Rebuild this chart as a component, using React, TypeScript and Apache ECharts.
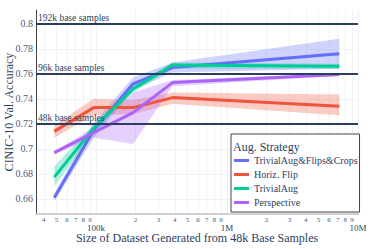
import React, { useEffect, useRef } from "react";
import * as echarts from "echarts";

const SIZES = [48000, 96000, 192000, 384000, 7200000];

const STRATEGIES = ["TrivialAug&Flips&Crops", "Horiz. Flip", "TrivialAug", "Perspective"];
const COLORS = ["#636EFA", "#EF553B", "#00CC96", "#AB63FA"];
const BAND_COLORS = [
  "rgba(99,110,250,0.3)",
  "rgba(239,85,59,0.3)",
  "rgba(0,204,150,0.3)",
  "rgba(171,99,250,0.3)",
];

const TAFC_MEAN = [0.661, 0.715, 0.752, 0.765, 0.776];
const TAFC_LO = [0.658, 0.709, 0.747, 0.761, 0.764];
const TAFC_HI = [0.664, 0.721, 0.757, 0.769, 0.788];

const FLIP_MEAN = [0.714, 0.733, 0.733, 0.741, 0.734];
const FLIP_LO = [0.709, 0.727, 0.728, 0.736, 0.727];
const FLIP_HI = [0.719, 0.74, 0.739, 0.745, 0.7435];

const TA_MEAN = [0.6775, 0.7165, 0.748, 0.767, 0.766];
const TA_LO = [0.67, 0.713, 0.745, 0.764, 0.764];
const TA_HI = [0.686, 0.72, 0.751, 0.769, 0.768];

const PERSP_MEAN = [0.697, 0.713, 0.729, 0.753, 0.7594];
const PERSP_LO = [0.6955, 0.709, 0.704, 0.75, 0.7585];
const PERSP_HI = [0.698, 0.717, 0.745, 0.755, 0.7605];

const MEANS = [TAFC_MEAN, FLIP_MEAN, TA_MEAN, PERSP_MEAN];
const LOWS = [TAFC_LO, FLIP_LO, TA_LO, PERSP_LO];
const HIGHS = [TAFC_HI, FLIP_HI, TA_HI, PERSP_HI];

const X_MINOR_TICKS = [
  40000, 50000, 60000, 70000, 80000, 90000,
  200000, 300000, 400000, 500000, 600000, 700000, 800000, 900000,
  2000000, 3000000, 4000000, 5000000, 6000000, 7000000, 8000000, 9000000,
];
const X_MINOR_LABELS = [
  "4", "5", "6", "7", "8", "9",
  "2", "3", "4", "5", "6", "7", "8", "9",
  "2", "3", "4", "5", "6", "7", "8", "9",
];
const X_MAJOR_TICKS = [100000, 1000000, 10000000];
const X_MAJOR_LABELS = ["100k", "1M", "10M"];

const Y_TICKS = [0.66, 0.68, 0.7, 0.72, 0.74, 0.76, 0.78, 0.8];

const REF_VALUES = [0.8, 0.758, 0.718];
const REF_LABELS = ["192k base samples", "96k base samples", "48k base samples"];

const X_MIN = 4.542;
const X_MAX = 7.0;
const Y_MIN = 0.648;
const Y_MAX = 0.811;

const FONT = "'Liberation Serif', 'Times New Roman', 'DejaVu Serif', serif";
const TEXT = "#2a3f5f";
const TICK = "#4b5a78";

const lg = (v: number) => Math.log10(v);

const nearestLabel = (vals: number[], labels: string[], v: number) => {
  let idx = 0;
  let best = Infinity;
  vals.forEach((t, k) => {
    const d = Math.abs(t - v);
    if (d < best) {
      best = d;
      idx = k;
    }
  });
  return labels[idx];
};

export default function App() {
  const ref = useRef<HTMLDivElement>(null);

  useEffect(() => {
    if (!ref.current) return;
    const chart = echarts.init(ref.current, undefined, { renderer: "svg" });

    const minorVals = X_MINOR_TICKS.map(lg);
    const majorVals = X_MAJOR_TICKS.map(lg);
    const allVals = [...minorVals, ...majorVals].sort((a, b) => a - b);

    const bandSeries = STRATEGIES.map((name, i) => ({
      type: "custom",
      name: name + " band",
      silent: true,
      z: 1,
      data: SIZES.map((s, k) => [lg(s), LOWS[i][k], HIGHS[i][k]]),
      renderItem: (params: any, api: any) => {
        if (params.dataIndex !== 0) return null;
        const upper = SIZES.map((s, k) => api.coord([lg(s), HIGHS[i][k]]));
        const lower = SIZES.map((s, k) => api.coord([lg(s), LOWS[i][k]])).reverse();
        return {
          type: "polygon",
          shape: { points: upper.concat(lower) },
          style: { fill: BAND_COLORS[i], stroke: "none" },
        };
      },
    }));

    const lineSeries = STRATEGIES.map((name, i) => ({
      type: "line",
      name,
      z: 2,
      symbol: "none",
      color: COLORS[i],
      lineStyle: { width: 3, color: COLORS[i] },
      data: SIZES.map((s, k) => [lg(s), MEANS[i][k]]),
    }));

    const refSeries = {
      type: "line",
      name: "ref",
      z: 5,
      data: [],
      markLine: {
        silent: true,
        symbol: ["none", "none"],
        animation: false,
        lineStyle: { color: TEXT, width: 2, type: "solid" },
        label: {
          position: "insideStartTop",
          distance: [2, 1],
          color: TEXT,
          fontSize: 9.5,
          fontFamily: FONT,
        },
        data: REF_VALUES.map((v, i) => ({
          yAxis: v,
          label: { formatter: REF_LABELS[i] },
        })),
      },
    };

    chart.setOption({
      animation: false,
      backgroundColor: "#fff",
      title: {
        text: "Aug. Strategy",
        left: 233,
        top: 141,
        padding: 0,
        textStyle: { fontSize: 12, fontWeight: "normal", fontFamily: FONT, color: TEXT },
      },
      legend: {
        data: STRATEGIES,
        orient: "vertical",
        left: 231,
        top: 134,
        icon: "rect",
        itemWidth: 15,
        itemHeight: 3,
        itemGap: 3,
        padding: [21, 2, 4, 3],
        borderColor: "#444",
        borderWidth: 1,
        borderRadius: 0,
        backgroundColor: "#fff",
        selectedMode: false,
        textStyle: { fontSize: 10, lineHeight: 11, fontFamily: FONT, color: TEXT },
      },
      grid: {
        left: 36,
        right: 15,
        top: 10,
        bottom: 35,
        containLabel: false,
        outerBoundsMode: "none",
      },
      xAxis: [
        {
          type: "value",
          min: X_MIN,
          max: X_MAX,
          name: "Size of Dataset Generated from 48k Base Samples",
          nameLocation: "middle",
          nameGap: 18,
          nameMoveOverlap: false,
          nameTextStyle: { fontSize: 12, fontFamily: FONT, color: TEXT },
          axisLine: { show: true, lineStyle: { color: "#cfcfcf", width: 2 } },
          axisTick: { show: false, customValues: allVals },
          splitLine: { show: true, lineStyle: { color: "#f0f2f7", width: 1 } },
          axisLabel: {
            customValues: minorVals,
            margin: 2,
            fontSize: 7,
            lineHeight: 7,
            color: TICK,
            fontFamily: FONT,
            formatter: (val: number) => nearestLabel(minorVals, X_MINOR_LABELS, val),
          },
        },
        {
          type: "value",
          min: X_MIN,
          max: X_MAX,
          position: "bottom",
          axisLine: { show: false },
          axisTick: { show: false, customValues: majorVals },
          splitLine: { show: false },
          axisLabel: {
            customValues: majorVals,
            showMaxLabel: true,
            showMinLabel: true,
            margin: 9,
            fontSize: 9,
            lineHeight: 9,
            color: TEXT,
            fontFamily: FONT,
            formatter: (val: number) => nearestLabel(majorVals, X_MAJOR_LABELS, val),
          },
        },
      ],
      yAxis: {
        type: "value",
        min: Y_MIN,
        max: Y_MAX,
        name: "CINIC-10 Val. Accuracy",
        nameLocation: "middle",
        nameGap: 21,
        nameMoveOverlap: false,
        nameTextStyle: { fontSize: 12, fontFamily: FONT, color: TEXT },
        axisLine: { show: true, lineStyle: { color: "#444", width: 1 } },
        axisTick: { show: false, customValues: Y_TICKS },
        splitLine: { show: true, lineStyle: { color: "#f0f2f7", width: 1 } },
        axisLabel: {
          customValues: Y_TICKS,
          margin: 3,
          fontSize: 10,
          color: TICK,
          fontFamily: FONT,
          formatter: (v: number) => String(Math.round(v * 100) / 100),
        },
      },
      series: [...bandSeries, ...lineSeries, refSeries],
    });

    return () => chart.dispose();
  }, []);

  return <div ref={ref} style={{ width: 373, height: 249, position: "absolute", left: 0, top: 0 }} />;
}
